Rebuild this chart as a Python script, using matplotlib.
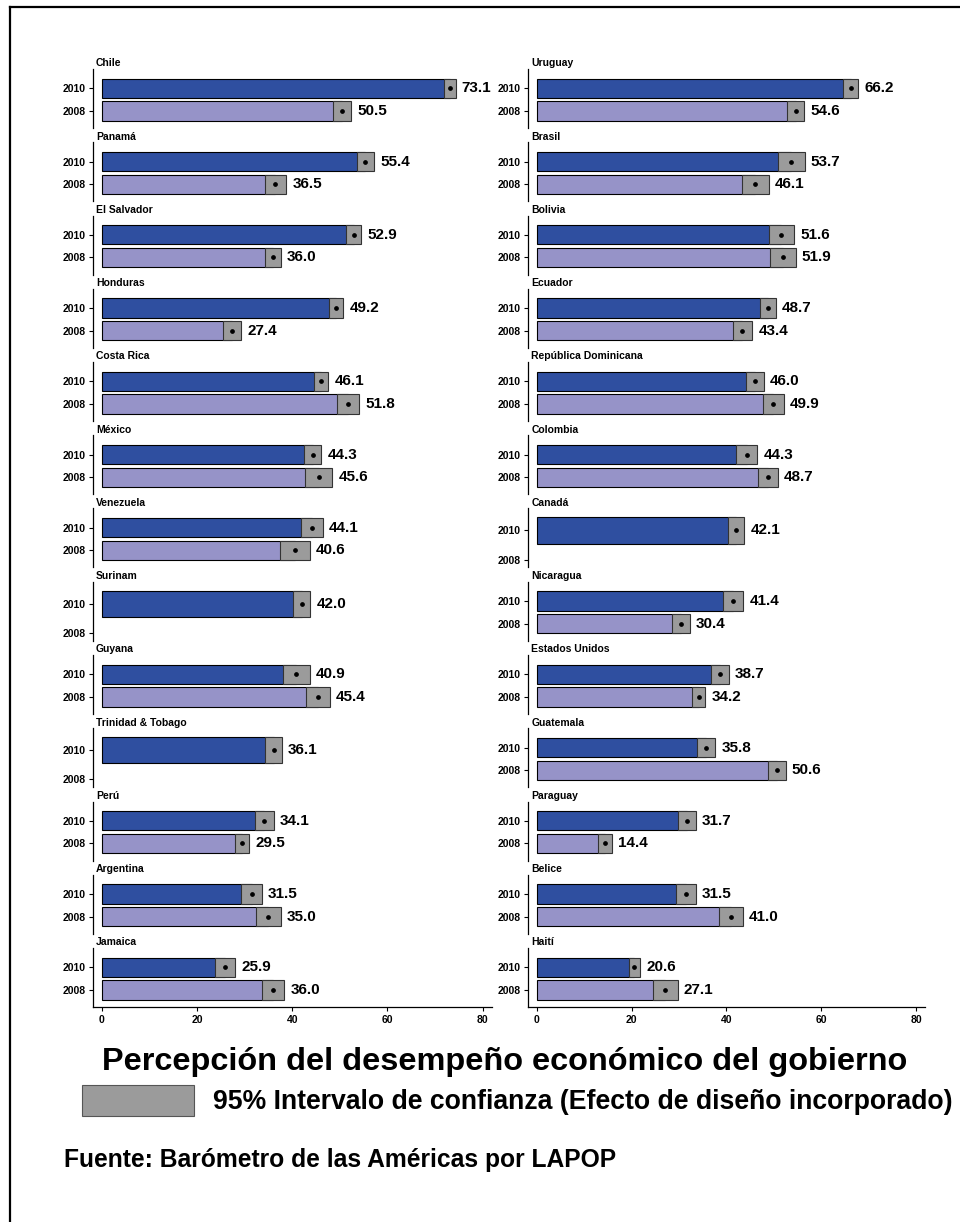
import numpy as np
import matplotlib
matplotlib.use("Agg")
import matplotlib.pyplot as plt
from matplotlib.lines import Line2D
from matplotlib.patches import Rectangle

plt.rcParams['font.family'] = ['Liberation Sans', 'DejaVu Sans']

# data
left_names = ["Chile", "Panamá", "El Salvador", "Honduras", "Costa Rica", "México",
              "Venezuela", "Surinam", "Guyana", "Trinidad & Tobago", "Perú",
              "Argentina", "Jamaica"]
left_2010 = [73.1, 55.4, 52.9, 49.2, 46.1, 44.3, 44.1, 42.0, 40.9, 36.1, 34.1, 31.5, 25.9]
left_2008 = [50.5, 36.5, 36.0, 27.4, 51.8, 45.6, 40.6, np.nan, 45.4, np.nan, 29.5, 35.0, 36.0]
left_ci_2010 = [1.2, 1.75, 1.6, 1.5, 1.5, 1.8, 2.3, 1.85, 2.85, 1.7, 2.0, 2.15, 2.1]
left_ci_2008 = [1.85, 2.3, 1.6, 1.85, 2.3, 2.85, 3.1, np.nan, 2.5, np.nan, 1.45, 2.65, 2.35]

right_names = ["Uruguay", "Brasil", "Bolivia", "Ecuador", "República Dominicana",
               "Colombia", "Canadá", "Nicaragua", "Estados Unidos", "Guatemala",
               "Paraguay", "Belice", "Haití"]
right_2010 = [66.2, 53.7, 51.6, 48.7, 46.0, 44.3, 42.1, 41.4, 38.7, 35.8, 31.7, 31.5, 20.6]
right_2008 = [54.6, 46.1, 51.9, 43.4, 49.9, 48.7, np.nan, 30.4, 34.2, 50.6, 14.4, 41.0, 27.1]
right_ci_2010 = [1.6, 2.8, 2.7, 1.7, 1.9, 2.2, 1.65, 2.15, 1.85, 1.9, 1.8, 2.1, 1.2]
right_ci_2008 = [1.75, 2.9, 2.75, 2.05, 2.25, 2.1, np.nan, 1.85, 1.35, 1.9, 1.5, 2.45, 2.65]

years = ["2010", "2008"]
xticks = [0, 20, 40, 60, 80]

c2010 = "#2f4fa0"
c2008 = "#9693c8"
cci = "#9b9b9b"

W, H = 960, 1222
fig = plt.figure(figsize=(W / 100, H / 100), dpi=100)


def px_axes(left, top, width, height):
    return fig.add_axes([left / W, 1 - (top + height) / H, width / W, height / H])


def draw_panel(ax, name, v10, v08, ci10, ci08, last):
    single = np.isnan(v08)
    if single:
        hb = 0.9
        ax.set_ylim(1.265, -0.75)
    else:
        hb = 0.85
        ax.set_ylim(1.75, -0.85)
    for pos, v, ci, col in [(0, v10, ci10, c2010), (1, v08, ci08, c2008)]:
        if np.isnan(v):
            continue
        ax.barh(pos, v, height=hb, color=col, edgecolor="black", linewidth=0.8)
        ax.barh(pos, 2 * ci, left=v - ci, height=hb, color=cci,
                edgecolor="#333333", linewidth=0.8)
        ax.plot(v, pos, marker="o", color="black", ms=2.4)
        ax.text(v + ci + 1.3, pos, "{:.1f}".format(v), va="center", ha="left",
                fontsize=11, fontweight="bold")
    ax.set_xlim(-1.75, 81.9)
    ax.set_yticks([0, 1])
    ax.set_yticklabels(years, fontsize=7.5, fontweight="bold")
    ax.tick_params(axis="y", length=3, width=0.8, pad=2.5)
    for s in ["top", "right"]:
        ax.spines[s].set_visible(False)
    ax.spines["left"].set_linewidth(0.9)
    if last:
        ax.set_xticks(xticks)
        ax.set_xticklabels([str(t) for t in xticks], fontsize=7.5, fontweight="bold")
        ax.tick_params(axis="x", length=3, width=0.8, pad=3)
        ax.spines["bottom"].set_linewidth(0.9)
    else:
        ax.set_xticks([])
        ax.spines["bottom"].set_visible(False)
    ax.text(0.007, 1.01, name, transform=ax.transAxes, va="bottom", ha="left",
            fontsize=7.5, fontweight="bold")
    ax.patch.set_alpha(0)


pitch = 73.25
for i in range(len(left_names)):
    top = 69 + i * pitch
    last = i == len(left_names) - 1
    ax = px_axes(93.3, top, 398.4, 59)
    draw_panel(ax, left_names[i], left_2010[i], left_2008[i],
               left_ci_2010[i], left_ci_2008[i], last)
    ax = px_axes(528.4, top, 396.6, 59)
    draw_panel(ax, right_names[i], right_2010[i], right_2008[i],
               right_ci_2010[i], right_ci_2008[i], last)

# title, legend, source
fig.text(505 / W, 1 - 1062 / H, "Percepción del desempeño económico del gobierno",
         ha="center", va="center", fontsize=23.4, fontweight="bold")
fig.add_artist(Rectangle((81.7 / W, 1 - 1116 / H), 112.3 / W, 31 / H,
                         transform=fig.transFigure, facecolor=cci,
                         edgecolor="#555555", linewidth=0.8))
fig.text(213 / W, 1 - 1102 / H,
         "95% Intervalo de confianza (Efecto de diseño incorporado)",
         ha="left", va="center", fontsize=19.2, fontweight="bold")
fig.text(64 / W, 1 - 1160 / H, "Fuente: Barómetro de las Américas por LAPOP",
         ha="left", va="center", fontsize=17.7, fontweight="bold")

# outer frame (top and left edges)
fig.add_artist(Line2D([10 / W, 1], [1 - 7 / H, 1 - 7 / H], transform=fig.transFigure,
                      color="black", linewidth=1.6))
fig.add_artist(Line2D([10 / W, 10 / W], [0, 1 - 7 / H], transform=fig.transFigure,
                      color="black", linewidth=1.6))

fig.savefig("out.png", dpi=100)
